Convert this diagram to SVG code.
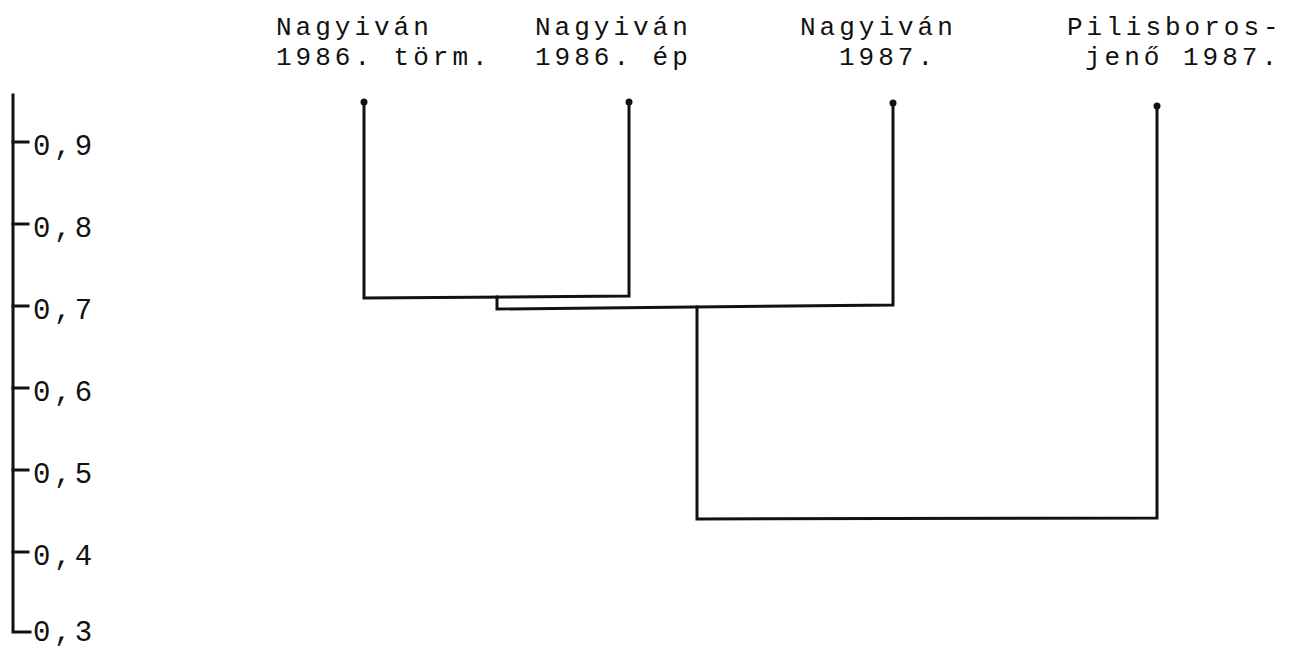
<svg xmlns="http://www.w3.org/2000/svg" width="1290" height="650" viewBox="0 0 1290 650">
  <style>
    .lbl { font-family: "Liberation Mono", "Courier New", monospace; font-size: 26px; letter-spacing: 4px; fill: #111; }
    .ax { font-family: "Liberation Mono", "Courier New", monospace; font-size: 29px; letter-spacing: 3.5px; fill: #111; }
    .ln { fill: none; stroke: #111; stroke-width: 3; stroke-linejoin: miter; stroke-linecap: square; }
    .dot { fill: #111; }
  </style>
  <rect width="1290" height="650" fill="#fff"/>

  <g id="axis">
    <path class="ln" d="M13,95 V632 H30"/>
    <path class="ln" d="M13,142 H28 M13,224 H28 M13,306 H28 M13,388 H28 M13,470 H28 M13,552 H28"/>
    <text class="ax" x="33" y="155">0,9</text>
    <text class="ax" x="33" y="237">0,8</text>
    <text class="ax" x="33" y="319">0,7</text>
    <text class="ax" x="33" y="401">0,6</text>
    <text class="ax" x="33" y="483">0,5</text>
    <text class="ax" x="33" y="565">0,4</text>
    <text class="ax" x="33" y="641">0,3</text>
  </g>

  <g id="leaf1">
    <text class="lbl" x="276" y="35">Nagyiván</text>
    <text class="lbl" x="276" y="65">1986. törm.</text>
    <circle class="dot" cx="364" cy="102" r="3.5"/>
  </g>
  <g id="leaf2">
    <text class="lbl" x="535" y="35">Nagyiván</text>
    <text class="lbl" x="535" y="65">1986. ép</text>
    <circle class="dot" cx="629" cy="102" r="3.5"/>
  </g>
  <g id="leaf3">
    <text class="lbl" x="800" y="35">Nagyiván</text>
    <text class="lbl" x="839" y="65">1987.</text>
    <circle class="dot" cx="893" cy="103" r="3.5"/>
  </g>
  <g id="leaf4">
    <text class="lbl" x="1067" y="35">Pilisboros-</text>
    <text class="lbl" x="1085" y="65">jenő 1987.</text>
    <circle class="dot" cx="1157" cy="106" r="3.5"/>
  </g>

  <g id="connectors">
    <path class="ln" d="M364,102 V298 L629,296 V102"/>
    <path class="ln" d="M497,297 V309 L893,305 V103"/>
    <path class="ln" d="M697,307 V519 L1157,518 V106"/>
  </g>
</svg>
